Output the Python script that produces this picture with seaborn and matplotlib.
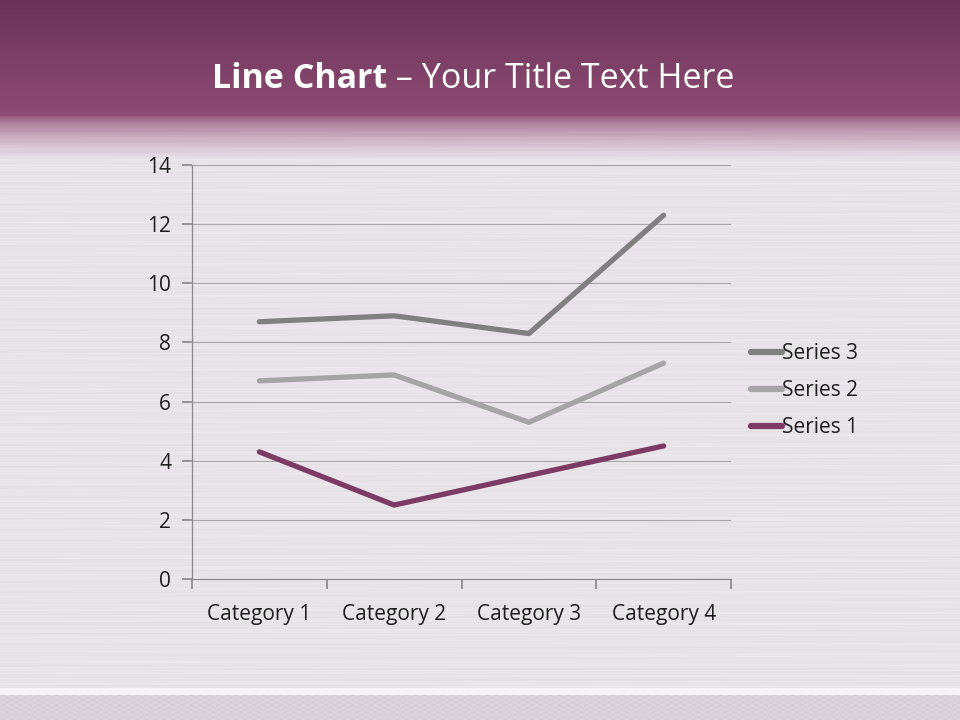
import numpy as np
import pandas as pd
import matplotlib.pyplot as plt
import seaborn as sns

categories = ['Category 1', 'Category 2', 'Category 3', 'Category 4']
series_1 = [4.3, 2.5, 3.5, 4.5]
series_2 = [6.7, 6.9, 5.3, 7.3]
series_3 = [8.7, 8.9, 8.3, 12.3]
y_ticks = [0, 2, 4, 6, 8, 10, 12, 14]

sns.set_theme(style='white')
plt.rcParams['font.family'] = ['Open Sans', 'DejaVu Sans']

df = pd.DataFrame({
    'Category': categories * 3,
    'Value': series_3 + series_2 + series_1,
    'Series': ['Series 3'] * 4 + ['Series 2'] * 4 + ['Series 1'] * 4,
})
palette = {'Series 3': '#808080', 'Series 2': '#a5a5a5', 'Series 1': '#7b3b62'}

fig = plt.figure(figsize=(9.6, 7.2), dpi=100)

# фон слайда
bg = fig.add_axes([0, 0, 1, 1], zorder=-10)
h, w = 720, 960
yy = np.arange(h)[:, None]
xx = np.arange(w)[None, :]
top = np.array([0x6a, 0x33, 0x57]) / 255
mid = np.array([0x8e, 0x4b, 0x73]) / 255
light = np.array([0xe9, 0xe4, 0xea]) / 255
img = np.zeros((h, w, 3))
for row in range(h):
    if row < 115:
        c = top + (mid - top) * row / 115
    elif row < 160:
        t = ((row - 115) / 45) ** 0.6
        c = mid + (light - mid) * t
    else:
        c = light
    img[row, :, :] = c
streak = 0.012 * np.sin(yy * 0.9) * np.sin(xx * 0.004 + yy * 0.3) + 0.008 * np.sin(yy * 2.3)
img[130:688] += streak[130:688, :, None]
img[688:695] = np.array([0xf6, 0xf3, 0xf7]) / 255
img[695:] = np.array([0xd9, 0xd2, 0xda]) / 255
img[695:] += (0.02 * np.sin(xx * 0.7) * np.sin(yy * 1.3))[695:, :, None]
bg.imshow(np.clip(img, 0, 1), aspect='auto', extent=[0, 1, 0, 1])
bg.axis('off')

# заголовок
fig.text(0.403, 0.878, 'Line Chart', color='white', fontsize=24.5, fontweight='bold',
         ha='right', va='baseline')
fig.text(0.403, 0.878, ' \u2013 Your Title Text Here', color='white', fontsize=24.5,
         ha='left', va='baseline')

ax = fig.add_axes([192 / 960, 1 - 579 / 720, (731 - 192) / 960, (579 - 165) / 720])
ax.patch.set_alpha(0)
sns.lineplot(data=df, x='Category', y='Value', hue='Series', palette=palette,
             hue_order=['Series 3', 'Series 2', 'Series 1'], linewidth=3.8,
             sort=False, ax=ax, solid_capstyle='round')

ax.set_xlim(-0.5, 3.5)
ax.set_ylim(0, 14)
ax.set_yticks(y_ticks)
ax.yaxis.grid(True, color='#a8a8a8', linewidth=0.8)
ax.set_axisbelow(True)
for s in ['top', 'right']:
    ax.spines[s].set_visible(False)
for s in ['left', 'bottom']:
    ax.spines[s].set_color('#8a8a8a')
    ax.spines[s].set_linewidth(0.9)
ax.set_xticks([-0.5, 0.5, 1.5, 2.5, 3.5], minor=False)
ax.set_xticklabels([])
ax.set_xticks([0, 1, 2, 3], minor=True)
ax.set_xticklabels(categories, minor=True)
ax.tick_params(axis='x', which='major', direction='out', length=7, color='#8a8a8a', bottom=True)
ax.tick_params(axis='x', which='minor', length=0, labelsize=15, pad=18, labelcolor='#1e1e1e')
ax.tick_params(axis='y', direction='out', length=7, color='#8a8a8a', left=True,
               labelsize=15, pad=8, labelcolor='#1e1e1e')
ax.set_xlabel('')
ax.set_ylabel('')

leg = ax.legend(loc='center left', bbox_to_anchor=(1.003, 0.455), frameon=False,
                fontsize=15, handlelength=1.45, handletextpad=0.0, labelspacing=0.78)
for line in leg.get_lines():
    line.set_linewidth(4.5)
    line.set_solid_capstyle('round')
for t in leg.get_texts():
    t.set_color('#1e1e1e')

fig.savefig('out.png', dpi=100)
